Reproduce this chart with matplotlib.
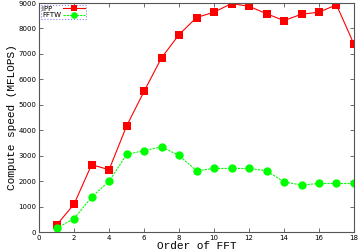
import matplotlib
matplotlib.use("Agg")
import matplotlib.pyplot as plt

# FFT order vs compute speed (MFLOPS)
order = list(range(1, 19))
ipp = [280, 1100, 2650, 2450, 4170, 5530, 6850, 7760, 8430, 8640,
       8980, 8870, 8580, 8310, 8560, 8640, 8930, 7380]
fftw = [150, 530, 1370, 2000, 3050, 3200, 3350, 3010, 2410, 2500,
        2500, 2500, 2410, 1970, 1850, 1910, 1910, 1910]

xticks = list(range(0, 19, 2))
yticks = list(range(0, 9001, 1000))

fig = plt.figure(figsize=(3.59, 2.52), dpi=100)
ax = fig.add_axes([0.109, 0.079, 0.877, 0.909])

ax.plot(order, ipp, color="#ff0000", lw=0.8, marker="s", ms=6,
        markeredgewidth=0, label="IPP    ")
ax.plot(order, fftw, color="#00ff00", lw=0.8, ls=(0, (2, 1)), marker="o",
        ms=6, markeredgewidth=0, label="FFTW")

ax.set_xlim(0, 18)
ax.set_ylim(0, 9000)
ax.set_xticks(xticks)
ax.set_yticks(yticks)
ax.tick_params(direction="in", length=3, width=0.6, color="#555555",
               labelsize=5, top=True, right=True, pad=2)
for s in ax.spines.values():
    s.set_color("#555555")
    s.set_linewidth(0.8)

ax.set_xlabel("Order of FFT", family="Liberation Mono", fontsize=8, labelpad=0)
ax.set_ylabel("Compute speed (MFLOPS)", family="Liberation Mono", fontsize=8,
              labelpad=1)

leg = ax.legend(loc="upper left", fontsize=5, frameon=True, fancybox=False,
                borderpad=0.15, handlelength=3.2, handletextpad=0.2,
                labelspacing=0.05, borderaxespad=0.25, markerfirst=False,
                markerscale=0.8)
leg.get_frame().set_edgecolor("#6666ff")
leg.get_frame().set_linestyle(":")
leg.get_frame().set_linewidth(0.8)

fig.savefig("out.png", dpi=100)
